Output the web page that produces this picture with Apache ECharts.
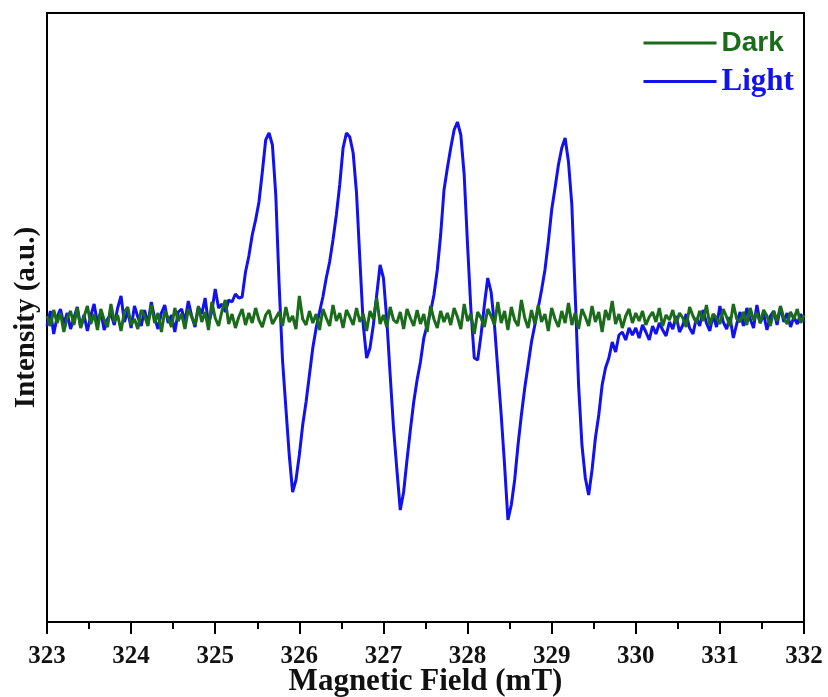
<!DOCTYPE html>
<html>
<head>
<meta charset="utf-8">
<script src="https://cdn.jsdelivr.net/npm/echarts@6/dist/echarts.min.js"></script>
<style>
html,body{margin:0;padding:0;background:#fff;}
#chart{width:828px;height:697px;}
</style>
</head>
<body>
<div id="chart"></div>
<script>
// Field sampling grid (mT)
const fieldStart = 323;
const fieldStep = 0.04;
const xTicks = [323, 324, 325, 326, 327, 328, 329, 330, 331, 332];

// Light spectrum (arbitrary units)
const lightValues = [
  -6, 9, -14, 3, 11, -4, 7, -9, 2, 13,
  -7, 5, -11, 4, 16, -3, 8, -10, 1, 6,
  -5, 12, 24, -2, 9, -8, 14, 3, -6, 10,
  -4, 18, 2, -9, 7, 15, -3, 5, -12, 8,
  11, -2, 19, 4, -7, 13, 6, 22, -4, 9,
  31, 12, 16, 8, 20,
  18, 26, 22, 23, 48, 64, 85, 100, 118, 148, 180, 187, 175, 125, 35,
  -40, -88, -135, -172, -160, -135, -105, -82, -55, -28, -8, 8, 23, 42,
  58, 80, 105, 135, 172, 187, 183, 167, 127, 60,
  -5, -38, -28, -5, 25, 55, 42, 0, -55, -108,
  -150, -190, -172, -140, -110, -82, -60, -42, -18, -5,
  8, 25, 50, 85, 130, 152,
  172, 190, 198, 185, 145, 75, 10, -38, -40, -15,
  15, 42, 28, -5, -50, -95, -145, -200, -185, -160,
  -125, -95, -68, -45, -22, -5, 12, 30, 50, 78,
  110, 132, 155, 172, 182,
  158, 115, 25, -65, -125, -158, -175, -150, -118, -95,
  -65, -48, -38, -22, -32, -15, -12, -20, -8,
  -15, -8, -18, -5, -12, -20, -6, -14, -3, -10,
  -16, -2, -9, 4, -12, -5, 6, -8, -14, 2,
  -6, 10, -3, -11, 5, -7, 14, -2, -9, 3,
  -18, -4, 8, -6, 12, 1, -8, 15, -3, 6,
  -10, 4, 9, -5, 13, -2, 7, -7, 3, -4,
  6, -2
];

// Dark spectrum (arbitrary units)
const darkValues = [
  4, -6, 10, -3, 7, -12, 2, 9, -5, 12,
  -8, 3, 14, -4, 6, -10, 11, 0, -7, 16,
  -2, 5, -11, 8, 13, -5, 1, -9, 10, 4,
  -6, 15, -3, 7, -12, 9, 2, -7, 12, -1,
  6, -9, 11, 3, -5, 14, -2, 8, -10, 18,
  2, -6, 9, 20, -4, 6, -8, 3, 11, -5,
  7, -3, 12, 0, -7, 5, 10, -4, 2, 8,
  -6, 13, -2, 4, -9, 24, 1, -5, 9, -3,
  6, -10, 11, 2, -6, 15, -1, 7, -8, 10,
  3, -5, 12, -2, 6, -11, 9, 1, 22, -4,
  5, -7, 13, 0, -3, 8, -9, 11, 2, -6,
  10, -4, 6, -12, 14, 1, -8, 9, -2, 7,
  -5, 12, 3, -9, 16, -1, 6, -14, 8, 2,
  -7, 11, 4, -5, 18, -3, 9, -10, 13, 0,
  -6, 20, 2, -8, 10, -4, 15, -2, 6, -11,
  12, 1, -7, 9, -3, 17, -5, 7, -9, 11,
  3, -6, 14, -2, 8, -12, 10, 0, 19, -4,
  6, -8, 4, 11, -3, 7, -1, 9, -5, 3,
  8, -2, 12, -6, 5, 0, 10, -4, 7, 2,
  -7, 13, 4, -3, 9, -1, 15, -5, 6, 2,
  -4, 11, 3, -6, 16, 1, -2, 8, -5, 12,
  0, 7, -3, 10, 4, -6, 9, -1, 14, 2,
  -4, 8, 1, 11, -3, 5
];

const seriesNames = ['Dark', 'Light'];

function toPairs(vals) {
  return vals.map((v, i) => [+(fieldStart + i * fieldStep).toFixed(3), v]);
}

const chart = echarts.init(document.getElementById('chart'), null, {renderer: 'canvas'});
const serif = '"Liberation Serif", "Times New Roman", serif';
const sans = '"Liberation Sans", Arial, sans-serif';
const greenC = '#1a6b1a';
const blueC = '#1212ee';

chart.setOption({
  animation: false,
  backgroundColor: '#fff',
  grid: {left: 47, right: 24, top: 13, bottom: 75, show: true, borderColor: '#000', borderWidth: 2,
    containLabel: false, outerBoundsMode: 'none'},
  legend: {
    data: seriesNames,
    orient: 'vertical',
    left: 637,
    top: 24,
    itemWidth: 73,
    itemHeight: 14,
    itemGap: 9,
    itemStyle: {opacity: 0},
    lineStyle: {width: 3},
    textStyle: {
      rich: {
        d: {fontFamily: sans, fontWeight: 'bold', fontSize: 28, color: greenC, lineHeight: 30},
        l: {fontFamily: serif, fontWeight: 'bold', fontSize: 31, color: blueC, lineHeight: 30}
      }
    },
    formatter: function (n) { return n === 'Dark' ? '{d|Dark}' : '{l|Light}'; }
  },
  xAxis: {
    type: 'value',
    min: xTicks[0],
    max: xTicks[xTicks.length - 1],
    interval: 1,
    name: 'Magnetic Field (mT)',
    nameLocation: 'middle',
    nameGap: 44,
    nameMoveOverlap: false,
    nameTextStyle: {fontFamily: serif, fontWeight: 'bold', fontSize: 31, color: '#111'},
    axisLine: {onZero: false, lineStyle: {color: '#000', width: 2}},
    axisTick: {length: 12, lineStyle: {color: '#000', width: 2}},
    minorTick: {show: true, splitNumber: 2, length: 7, lineStyle: {color: '#000', width: 2}},
    splitLine: {show: false},
    axisLabel: {fontFamily: serif, fontWeight: 'bold', fontSize: 25, color: '#111', margin: 22,
      formatter: v => String(v)}
  },
  yAxis: {
    type: 'value',
    min: -302,
    max: 307,
    name: 'Intensity (a.u.)',
    nameLocation: 'middle',
    nameGap: 6,
    nameMoveOverlap: false,
    nameTextStyle: {fontFamily: serif, fontWeight: 'bold', fontSize: 29, color: '#111'},
    axisLine: {show: true, onZero: false, lineStyle: {color: '#000', width: 2}},
    axisTick: {show: false},
    axisLabel: {show: false},
    splitLine: {show: false}
  },
  series: [
    {name: 'Light', type: 'line', data: toPairs(lightValues), symbol: 'none',
      lineStyle: {color: blueC, width: 3}, itemStyle: {color: blueC}, z: 2},
    {name: 'Dark', type: 'line', data: toPairs(darkValues), symbol: 'none',
      lineStyle: {color: greenC, width: 3}, itemStyle: {color: greenC}, z: 3}
  ]
});
</script>
</body>
</html>
